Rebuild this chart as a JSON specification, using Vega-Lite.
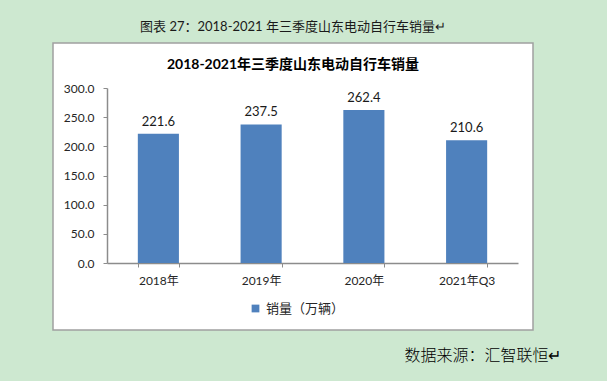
{
  "$schema": "https://vega.github.io/schema/vega-lite/v6.json",
  "width": 480,
  "height": 287,
  "autosize": {"type": "none"},
  "padding": {"left": 53, "top": 43, "right": 74, "bottom": 51},
  "background": "#cde8d0",
  "config": {
    "view": {"fill": "#ffffff", "stroke": "#a0a0a0", "strokeWidth": 1.5},
    "font": "Lato, 'Noto Sans CJK SC'"
  },
  "title": {
    "text": "图表 27：2018-2021 年三季度山东电动自行车销量↵",
    "subtitle": "2018-2021年三季度山东电动自行车销量",
    "anchor": "middle",
    "frame": "group",
    "offset": -29,
    "fontSize": 13,
    "fontWeight": "normal",
    "color": "#1a1a1a",
    "font": "Lato, 'Noto Sans CJK SC'",
    "subtitleFont": "Lato, 'Noto Sans CJK SC'",
    "subtitleFontSize": 14,
    "subtitleFontWeight": "bold",
    "subtitleColor": "#000000",
    "subtitlePadding": 24
  },
  "data": {
    "values": [
      {"year": "2018年", "sales": 221.6, "series": "销量（万辆）"},
      {"year": "2019年", "sales": 237.5, "series": "销量（万辆）"},
      {"year": "2020年", "sales": 262.4, "series": "销量（万辆）"},
      {"year": "2021年Q3", "sales": 210.6, "series": "销量（万辆）"}
    ]
  },
  "encoding": {
    "x": {
      "field": "year",
      "type": "nominal",
      "sort": null,
      "scale": {"range": [54, 465], "paddingInner": 0.6, "paddingOuter": 0.3},
      "axis": {
        "title": "数据来源：汇智联恒↵",
        "titleX": 508,
        "titleY": 97,
        "titleAlign": "right",
        "titleAnchor": null,
        "titleBaseline": "alphabetic",
        "titleFontSize": 16,
        "titleFontWeight": 300,
        "titleColor": "#000000",
        "offset": -67,
        "labelAngle": 0,
        "labelFontSize": 12,
        "labelColor": "#262626",
        "labelPadding": 8,
        "tickBand": "extent",
        "tickSize": 4,
        "tickColor": "#8c8c8c",
        "domainColor": "#8c8c8c",
        "domainWidth": 1.5,
        "grid": false
      }
    },
    "y": {
      "field": "sales",
      "type": "quantitative",
      "scale": {"domain": [0, 300], "range": [220, 45], "nice": false, "zero": true},
      "axis": {
        "title": null,
        "values": [0, 50, 100, 150, 200, 250, 300],
        "format": ".1f",
        "offset": -54,
        "labelFontSize": 12,
        "labelColor": "#262626",
        "labelPadding": 9,
        "tickSize": 4,
        "tickColor": "#8c8c8c",
        "domainColor": "#8c8c8c",
        "domainWidth": 1.5,
        "grid": false
      }
    }
  },
  "layer": [
    {
      "mark": {"type": "bar"},
      "encoding": {
        "color": {
          "field": "series",
          "type": "nominal",
          "scale": {"range": ["#4f81bd"]},
          "legend": {
            "title": null,
            "orient": "none",
            "legendX": 196,
            "legendY": 259,
            "symbolType": "square",
            "symbolSize": 60,
            "symbolStrokeWidth": 0,
            "labelFontSize": 13,
            "labelColor": "#262626"
          }
        }
      }
    },
    {
      "mark": {"type": "text", "baseline": "middle", "dy": -12, "fontSize": 13, "color": "#1a1a1a"},
      "encoding": {
        "text": {"field": "sales", "type": "quantitative", "format": ".1f"}
      }
    }
  ]
}
